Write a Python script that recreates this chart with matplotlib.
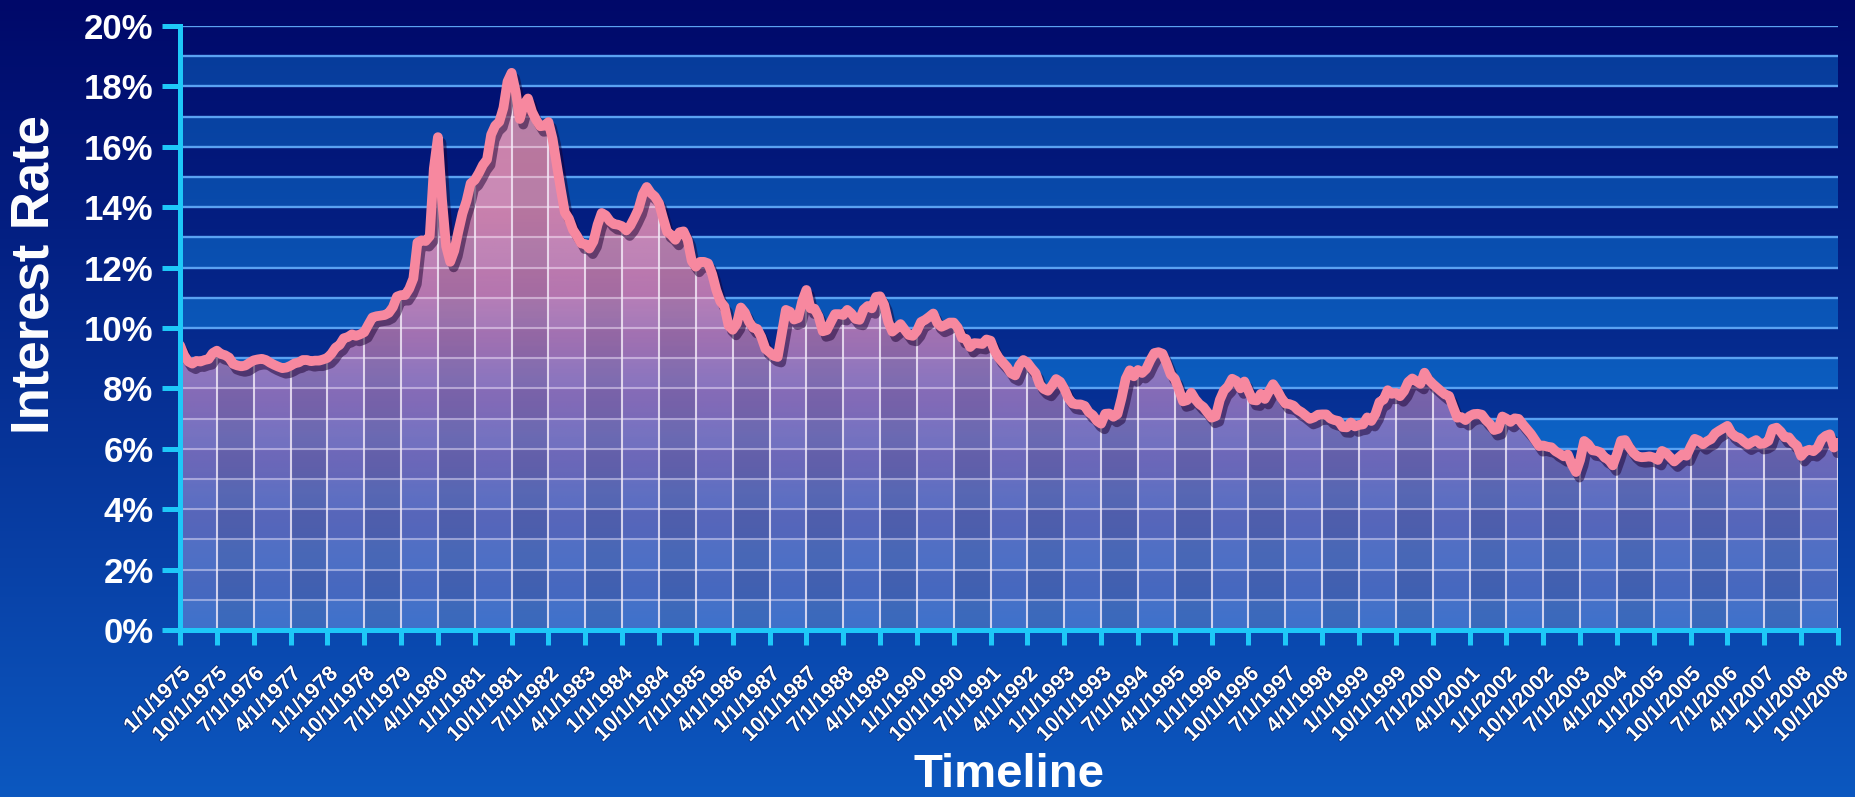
import numpy as np
import matplotlib
matplotlib.use("Agg")
import matplotlib.pyplot as plt
from matplotlib import patheffects as pe
from matplotlib.colors import LinearSegmentedColormap

# ---------------- data (monthly 30-yr mortgage rate, %) ----------------
r1975 = [9.43, 9.10, 8.89, 8.82, 8.91, 8.89, 8.94, 8.97, 9.17, 9.25, 9.14, 9.10]
r1976 = [9.02, 8.81, 8.76, 8.73, 8.76, 8.85, 8.93, 8.96, 8.98, 8.94, 8.85, 8.78]
r1977 = [8.72, 8.67, 8.69, 8.75, 8.83, 8.86, 8.94, 8.94, 8.90, 8.92, 8.92, 8.96]
r1978 = [9.01, 9.15, 9.35, 9.44, 9.66, 9.70, 9.79, 9.74, 9.79, 9.86, 10.11, 10.35]
r1979 = [10.39, 10.41, 10.43, 10.50, 10.69, 11.04, 11.09, 11.09, 11.30, 11.64, 12.83, 12.90]
r1980 = [12.88, 13.04, 15.28, 16.32, 14.26, 12.71, 12.19, 12.56, 13.20, 13.79, 14.21, 14.79]
r1981 = [14.90, 15.13, 15.40, 15.58, 16.40, 16.70, 16.83, 17.29, 18.16, 18.45, 17.83, 16.92]
r1982 = [17.40, 17.60, 17.16, 16.89, 16.68, 16.70, 16.82, 16.27, 15.43, 14.61, 13.83, 13.62]
r1983 = [13.25, 13.04, 12.80, 12.78, 12.63, 12.87, 13.42, 13.81, 13.73, 13.54, 13.44, 13.42]
r1984 = [13.37, 13.23, 13.39, 13.65, 13.94, 14.42, 14.67, 14.47, 14.35, 14.13, 13.64, 13.18]
r1985 = [13.08, 12.92, 13.17, 13.20, 12.91, 12.22, 12.03, 12.19, 12.19, 12.14, 11.78, 11.26]
r1986 = [10.88, 10.71, 10.08, 9.94, 10.14, 10.68, 10.51, 10.20, 10.01, 9.97, 9.70, 9.31]
r1987 = [9.20, 9.08, 9.04, 9.83, 10.60, 10.54, 10.28, 10.33, 10.89, 11.26, 10.65, 10.64]
r1988 = [10.38, 9.89, 9.93, 10.20, 10.46, 10.46, 10.43, 10.60, 10.48, 10.30, 10.27, 10.61]
r1989 = [10.73, 10.65, 11.03, 11.05, 10.77, 10.20, 9.88, 9.99, 10.13, 9.95, 9.77, 9.74]
r1990 = [9.90, 10.20, 10.27, 10.37, 10.48, 10.16, 10.04, 10.10, 10.18, 10.18, 10.01, 9.67]
r1991 = [9.64, 9.37, 9.50, 9.49, 9.47, 9.62, 9.58, 9.24, 9.01, 8.86, 8.71, 8.50]
r1992 = [8.43, 8.76, 8.94, 8.85, 8.67, 8.51, 8.13, 7.98, 7.92, 8.09, 8.31, 8.22]
r1993 = [7.99, 7.68, 7.50, 7.47, 7.47, 7.42, 7.21, 7.11, 6.92, 6.83, 7.16, 7.17]
r1994 = [7.06, 7.15, 7.68, 8.32, 8.60, 8.40, 8.61, 8.51, 8.64, 8.93, 9.17, 9.20]
r1995 = [9.15, 8.83, 8.46, 8.32, 7.96, 7.57, 7.61, 7.86, 7.64, 7.48, 7.38, 7.20]
r1996 = [7.03, 7.08, 7.62, 7.93, 8.07, 8.32, 8.25, 8.00, 8.23, 7.92, 7.62, 7.60]
r1997 = [7.82, 7.65, 7.90, 8.14, 7.94, 7.69, 7.50, 7.48, 7.43, 7.29, 7.21, 7.10]
r1998 = [6.99, 7.04, 7.13, 7.14, 7.14, 7.00, 6.95, 6.92, 6.72, 6.71, 6.87, 6.74]
r1999 = [6.79, 6.81, 7.04, 6.92, 7.15, 7.55, 7.63, 7.94, 7.82, 7.85, 7.74, 7.91]
r2000 = [8.21, 8.33, 8.24, 8.15, 8.52, 8.29, 8.15, 8.03, 7.91, 7.80, 7.75, 7.38]
r2001 = [7.03, 7.05, 6.95, 7.08, 7.15, 7.16, 7.13, 6.95, 6.82, 6.62, 6.66, 7.07]
r2002 = [7.00, 6.89, 7.01, 6.99, 6.81, 6.65, 6.49, 6.29, 6.09, 6.11, 6.07, 6.05]
r2003 = [5.92, 5.84, 5.75, 5.81, 5.48, 5.23, 5.63, 6.26, 6.15, 5.95, 5.93, 5.88]
r2004 = [5.71, 5.64, 5.45, 5.83, 6.27, 6.29, 6.06, 5.87, 5.75, 5.72, 5.73, 5.75]
r2005 = [5.71, 5.63, 5.93, 5.86, 5.72, 5.58, 5.70, 5.82, 5.77, 6.07, 6.33, 6.27]
r2006 = [6.15, 6.25, 6.32, 6.51, 6.60, 6.68, 6.76, 6.52, 6.40, 6.36, 6.24, 6.14]
r2007 = [6.22, 6.29, 6.16, 6.18, 6.26, 6.66, 6.70, 6.57, 6.38, 6.38, 6.21, 6.10]
r2008 = [5.76, 5.92, 5.97, 5.92, 6.04, 6.32, 6.43, 6.48, 6.04, 6.20]

years = [r1975, r1976, r1977, r1978, r1979, r1980, r1981, r1982, r1983, r1984,
         r1985, r1986, r1987, r1988, r1989, r1990, r1991, r1992, r1993, r1994,
         r1995, r1996, r1997, r1998, r1999, r2000, r2001, r2002, r2003, r2004,
         r2005, r2006, r2007, r2008]
rates = np.array([v for yr in years for v in yr])
months = np.arange(len(rates))

tick_labels = ["1/1/1975", "10/1/1975", "7/1/1976", "4/1/1977", "1/1/1978", "10/1/1978",
               "7/1/1979", "4/1/1980", "1/1/1981", "10/1/1981", "7/1/1982", "4/1/1983",
               "1/1/1984", "10/1/1984", "7/1/1985", "4/1/1986", "1/1/1987", "10/1/1987",
               "7/1/1988", "4/1/1989", "1/1/1990", "10/1/1990", "7/1/1991", "4/1/1992",
               "1/1/1993", "10/1/1993", "7/1/1994", "4/1/1995", "1/1/1996", "10/1/1996",
               "7/1/1997", "4/1/1998", "1/1/1999", "10/1/1999", "7/1/2000", "4/1/2001",
               "1/1/2002", "10/1/2002", "7/1/2003", "4/1/2004", "1/1/2005", "10/1/2005",
               "7/1/2006", "4/1/2007", "1/1/2008", "10/1/2008"]
tick_pos = np.arange(len(tick_labels)) * 9
y_ticks = np.arange(0, 21, 2)
y_tick_labels = [f"{v}%" for v in y_ticks]

# ---------------- figure ----------------
W, H = 1856, 797
DPI = 100
plt.rcParams["font.family"] = ["Liberation Sans", "DejaVu Sans"]
fig = plt.figure(figsize=(W / DPI, H / DPI), dpi=DPI)

top_c = np.array([0, 8, 105]) / 255.0
bot_c = np.array([12, 88, 192]) / 255.0

def base_color(f):
    f = np.clip(f, 0, 1)[..., None]
    return bot_c + (top_c - bot_c) * f

bg = fig.add_axes([0, 0, 1, 1], zorder=-10)
fgrid = np.linspace(0, 1, 400)[:, None] * np.ones((1, 4))
bg.imshow(base_color(fgrid), origin="lower", extent=(0, 1, 0, 1), aspect="auto")
bg.set_axis_off()

ax_l, ax_r = 180 / W, 1838 / W
ax_b, ax_t = 1 - 630 / H, 1 - 26 / H
ax = fig.add_axes([ax_l, ax_b, ax_r - ax_l, ax_t - ax_b])
ax.set_facecolor("none")
xmax = months[-1]
ax.set_xlim(0, xmax)
ax.set_ylim(0, 20)

# banded plot background
NY, NX = 1000, 8
yy = np.linspace(0, 20, NY)[:, None] * np.ones((1, NX))
ffrac = ax_b + yy / 20 * (ax_t - ax_b)
band_img = base_color(ffrac)
light = (np.floor(yy) % 2 == 0)[..., None]
band_img = np.where(light, np.clip(band_img + np.array([6, 46, 44]) / 255.0, 0, 1), band_img)
ax.imshow(band_img, origin="lower", extent=(0, xmax, 0, 20), aspect="auto",
          interpolation="nearest", zorder=0)

# horizontal grid lines
ax.hlines(np.arange(1, 21), 0, xmax, colors="#5aa2f2", lw=1.7, zorder=1)

# area fill with gradient
poly = ax.fill_between(months, rates, 0, facecolor="none", edgecolor="none")
clip = poly.get_paths()[0]
fill_cmap = LinearSegmentedColormap.from_list(
    "fill", [(0.0, "#4a72c8"), (0.2, "#6c70c0"), (0.40, "#a47ac0"),
             (0.55, "#dc88b8"), (0.7, "#f698b8"), (1.0, "#fca4ba")])
FY, FX = 900, 1800
fy = np.linspace(0, 20, FY)[:, None] * np.ones((1, FX))
fx = np.ones((FY, 1)) * np.linspace(0, xmax, FX)[None, :]
rgba = fill_cmap(fy / 20.0)
col_alt = ((fx // 9) % 2 == 1)
rgba[..., :3] = np.where(col_alt[..., None], rgba[..., :3] * 0.91, rgba[..., :3])
rgba[..., 3] = 0.82
im = ax.imshow(rgba, origin="lower", extent=(0, xmax, 0, 20), aspect="auto",
               interpolation="bilinear", zorder=2)
im.set_clip_path(clip, ax.transData)

# grid lines inside the fill
vl = ax.vlines(tick_pos, 0, 20, colors="#f6eefa", lw=1.5, alpha=0.8, zorder=3)
vl.set_clip_path(clip, ax.transData)
hl = ax.hlines(np.arange(1, 20), 0, xmax, colors="#f2e8f8", lw=1.3, alpha=0.45, zorder=3)
hl.set_clip_path(clip, ax.transData)

# the rate line
ax.plot(months, rates, color="#f7889f", lw=7, solid_joinstyle="round",
        solid_capstyle="round", zorder=5,
        path_effects=[pe.SimpleLineShadow(offset=(2.5, -4), shadow_color="#1a0030", alpha=0.5),
                      pe.Normal()])

# axes styling
cyan = "#1ec8f8"
for s in ["top", "right"]:
    ax.spines[s].set_visible(False)
for s in ["left", "bottom"]:
    ax.spines[s].set_color(cyan)
    ax.spines[s].set_linewidth(3.6)
    ax.spines[s].set_zorder(6)

ax.set_yticks(y_ticks)
ax.set_yticklabels(y_tick_labels)
ax.set_xticks(tick_pos)
ax.set_xticklabels(tick_labels)
ax.tick_params(axis="y", direction="out", length=13, width=3.6, color=cyan, pad=6,
               labelsize=25, labelcolor="white")
ax.tick_params(axis="x", direction="out", length=11, width=3.6, color=cyan, pad=13,
               labelsize=15.5, labelcolor="white")
for lab in ax.get_yticklabels():
    lab.set_fontweight("bold")
for lab in ax.get_xticklabels():
    lab.set_fontweight("bold")
    lab.set_rotation(45)
    lab.set_ha("right")
    lab.set_va("top")
    lab.set_rotation_mode("anchor")
    lab.set_path_effects([pe.withStroke(linewidth=1.2, foreground="#0a2a70")])

fig.text(35 / W, 1 - 275 / H, "Interest Rate", rotation=90, ha="center", va="center",
         fontsize=38, fontweight="bold", color="white")
fig.text(1009 / W, 1 - 775 / H, "Timeline", ha="center", va="center",
         fontsize=34, fontweight="bold", color="white")

fig.savefig("out.png", dpi=DPI)
